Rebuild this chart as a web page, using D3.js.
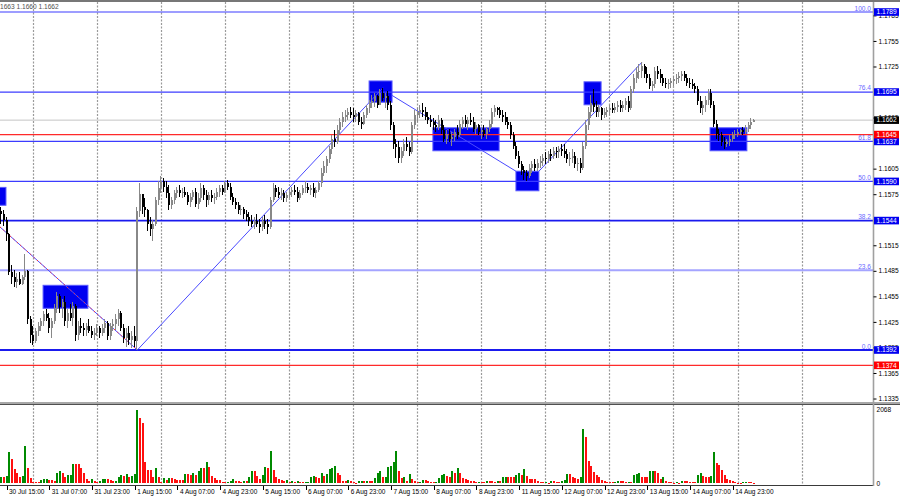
<!DOCTYPE html>
<html><head><meta charset="utf-8">
<script src="https://cdn.jsdelivr.net/npm/d3@7"></script>
<style>html,body{margin:0;padding:0;background:#fff;overflow:hidden}text{font-family:"Liberation Sans",Arial,sans-serif}</style>
</head><body>
<svg id="c" width="900" height="500"></svg>
<script>
// ---- DATA (prices stored as pips above 1.1000; index 0 = 30 Jul 15:00, H1 bars) ----
const PIP = 0.0001, BASE = 1.1;
const firstIndex = -2;
const firstOpen = 555;
const closes = [
552,545,528,484,478,472,475,470,478,485,
428,410,403,414,420,426,434,430,418,426,
440,456,442,448,426,436,430,444,410,420,
418,416,420,414,410,412,418,412,418,424,
408,420,422,428,436,418,406,412,404,408,
402,555,575,560,556,540,534,540,568,582,
590,584,576,562,568,576,580,576,578,574,
566,572,578,564,570,582,574,568,574,570,
572,578,582,578,588,584,572,566,562,556,
558,552,548,544,540,544,540,536,544,540,
536,568,582,578,574,576,570,574,578,580,
578,570,576,582,584,580,582,576,580,588,
600,608,616,628,640,636,650,660,666,668,
672,668,666,670,660,658,668,676,682,684,
690,680,694,688,690,680,656,634,630,618,
626,634,630,624,656,668,672,674,672,666,
662,660,656,654,662,650,640,646,640,642,
648,644,658,662,658,662,660,652,656,648,
650,646,652,658,672,676,674,668,666,660,
656,644,632,620,610,604,600,596,606,610,
606,612,614,618,616,622,620,626,624,628,
626,622,616,618,620,610,612,606,632,656,
672,682,678,672,676,668,672,674,676,674,
678,680,676,680,684,676,698,712,718,720,
726,716,712,702,704,720,716,712,706,704,
706,708,710,712,714,716,712,706,704,702,
698,684,676,680,686,694,680,658,646,644,
636,634,636,640,644,646,648,650,648,652,
656,660,662];
const highs = [
560,556,548,530,492,486,482,484,480,505,
486,432,420,418,425,430,438,440,436,430,
446,460,458,452,456,440,446,448,446,426,
430,424,424,428,420,418,422,420,422,428,
426,424,428,434,440,438,422,418,420,414,
420,560,588,575,570,558,548,545,572,590,
596,594,590,586,572,580,584,586,582,584,
578,576,580,582,576,588,586,580,578,580,
576,582,586,586,590,592,588,576,570,566,
562,560,556,554,550,548,552,546,548,550,
546,572,588,586,584,582,580,578,582,584,
586,584,580,586,590,588,586,588,584,590,
606,614,620,632,645,650,656,664,672,674,
676,678,676,674,672,666,672,680,686,692,
694,692,698,700,694,696,684,660,640,638,
630,640,642,636,660,674,676,680,682,678,
672,668,664,662,668,664,656,650,652,648,
652,656,662,666,668,666,670,666,660,658,
654,656,654,662,676,680,678,678,674,672,
666,660,648,636,626,614,608,604,610,614,
616,616,620,622,624,626,628,630,630,632,
634,634,628,624,628,624,618,618,636,662,
678,692,698,684,680,678,676,678,680,682,
682,684,686,684,688,690,702,716,724,728,
730,728,724,716,708,724,726,722,716,712,
710,712,714,716,718,720,720,716,712,710,
706,702,690,684,690,698,698,684,662,652,
648,642,640,644,648,650,652,652,654,656,
660,664,663];
const lows = [
540,538,520,480,470,466,465,468,468,474,
422,400,398,400,408,414,420,426,412,406,
422,436,436,430,420,418,426,420,402,404,
412,408,408,412,406,404,408,406,408,412,
404,404,414,416,420,414,400,396,398,394,
396,392,548,552,548,532,526,520,538,562,
576,578,570,556,558,564,570,572,570,572,
562,560,568,560,558,566,568,560,562,566,
564,568,572,574,576,580,568,562,558,552,
550,546,544,538,536,534,536,530,532,534,
528,534,566,572,570,568,566,566,570,572,
574,566,568,574,576,576,574,572,570,578,
584,596,600,612,622,630,634,646,654,660,
662,664,660,660,656,652,656,664,670,676,
678,676,680,684,676,674,650,628,618,612,
612,620,626,620,622,652,660,664,666,662,
658,654,650,648,650,646,636,634,636,632,
638,640,642,652,654,650,656,648,646,644,
640,642,640,648,654,666,668,664,660,656,
652,640,628,616,606,598,592,590,594,600,
602,602,606,608,610,612,614,616,618,618,
620,618,612,608,612,606,602,600,604,628,
650,664,672,666,666,662,664,666,668,670,
670,672,672,672,674,672,674,694,706,710,
712,712,706,698,696,700,710,706,702,700,
698,700,702,704,706,708,708,702,700,698,
694,680,670,668,672,680,676,654,640,638,
632,628,630,632,636,640,642,644,644,646,
648,652,660];
const volumes = [
178,159,197,881,665,384,272,159,197,1040,
431,131,37,37,37,84,103,112,84,84,
66,290,337,290,159,216,234,534,525,525,
422,290,122,66,103,66,37,56,103,122,
103,75,56,66,159,225,197,253,178,197,
253,2068,1818,1696,600,365,365,159,412,159,
37,131,84,150,150,103,84,84,75,253,
253,225,272,225,347,431,431,600,440,197,
150,75,75,19,19,28,47,103,66,56,
37,47,47,178,337,337,197,103,234,459,
412,909,365,178,122,84,66,84,28,47,
28,56,
28,19,28,37,178,197,159,131,290,197,
253,394,422,478,290,234,66,47,84,47,
19,9,56,66,47,56,56,56,150,272,
347,159,178,440,478,581,900,347,150,178,
66,253,112,56,28,37,84,84,47,37,
19,37,140,225,244,197,178,347,272,412,
290,131,112,84,66,47,28,37,19,19,
47,47,47,28,47,47,159,178,159,159,
159,225,272,225,384,197,122,122,103,66,
28,19,28,9,66,47,37,37,56,84,
253,253,159,150,122,178,1509,1302,628,478,
319,225,159,
75,56,37,28,19,28,66,66,47,28,
37,37,216,253,272,178,178,178,337,347,
347,272,122,178,47,37,28,9,19,10,
47,47,47,28,28,28,216,272,187,178,
178,197,881,572,497,365,216,122,84,47,
28,10,9,19,28,28,28,10];
const timeTickIdx = [0,16,32,48,64,80,96,112,128,144,160,176,192,208,224,240,256,272];
const timeTickLabels = ["30 Jul 15:00","31 Jul 07:00","31 Jul 23:00","1 Aug 15:00","4 Aug 07:00","4 Aug 23:00","5 Aug 15:00","6 Aug 07:00","6 Aug 23:00","7 Aug 15:00","8 Aug 07:00","8 Aug 23:00","11 Aug 15:00","12 Aug 07:00","12 Aug 23:00","13 Aug 15:00","14 Aug 07:00","14 Aug 23:00"];
const priceTicks = [1.1335,1.1365,1.1395,1.1425,1.1455,1.1485,1.1515,1.1545,1.1575,1.1605,1.1635,1.1665,1.1695,1.1725,1.1755,1.1785];
const volTicks = [0, 2068];
const fibHigh = 1.1789, fibLow = 1.1392;
const fibRatios = [1, 0.764, 0.618, 0.5, 0.382, 0.236, 0];
const fibNames = ["100.0","76.4","61.8","50.0","38.2","23.6","0.0"];
const blueLevels = [1.1789, 1.1695, 1.1637, 1.1590, 1.1544, 1.1392];
const redLevels = [1.1645, 1.1374];
const lastPrice = 1.1662;
const headerText = "1663 1.1660 1.1662";
// zones: bar index range and price range
const zones = [
 {i0:-3, i1:-0.2, p0:1.1562, p1:1.1583},
 {i0:13.7, i1:30.5, p0:1.1441, p1:1.1468},
 {i0:135.8, i1:144.4, p0:1.1683, p1:1.1708},
 {i0:159.7, i1:184.5, p0:1.1626, p1:1.1653},
 {i0:190.8, i1:199.4, p0:1.1579, p1:1.1602},
 {i0:216.3, i1:222.7, p0:1.1680, p1:1.1707},
 {i0:263.5, i1:277.3, p0:1.1626, p1:1.1653}
];
const trendLines = [
 {i0:-2.43, p0:1.15365, i1:49, p1:1.1392, dashed:true},
 {i0:49, p0:1.1392, i1:141, p1:1.1700},
 {i0:144.4, p0:1.1691, i1:190.8, p1:1.1602},
 {i0:199.4, p0:1.1602, i1:238, p1:1.1730}
];

// ---- LAYOUT ----
const svg = d3.select("#c");
const axisX = 873, mainTop = 2, mainBot = 402, volTop = 405, volBot = 485;
const x = d3.scaleLinear().domain([0, 272]).range([6.5, 6.5 + 2.67 * 272]);
const y = d3.scaleLinear().domain([fibLow, fibHigh]).range([350, 12]);
const yv = d3.scaleLinear().domain([0, 2068]).range([483, 409.5]);
const toP = v => BASE + v * PIP;

const defs = svg.append("defs");
defs.append("clipPath").attr("id","cm").append("rect").attr("x",0).attr("y",mainTop).attr("width",axisX).attr("height",mainBot-mainTop);
defs.append("clipPath").attr("id","cv").append("rect").attr("x",0).attr("y",volTop).attr("width",axisX).attr("height",volBot-volTop);

// grid (vertical dashed)
const gridIdx = d3.range(13).map(k => 9.8 + 24 * k);
svg.append("g").selectAll("line").data(gridIdx).join("line")
  .attr("x1", d => Math.round(x(d)) + 0.5).attr("x2", d => Math.round(x(d)) + 0.5)
  .attr("y1", mainTop).attr("y2", volBot)
  .attr("stroke", "#9a9a9a").attr("stroke-width", 1.2).attr("stroke-dasharray", "2,1.5");

const gm = svg.append("g").attr("clip-path","url(#cm)");

// zones
gm.append("g").selectAll("rect").data(zones).join("rect")
  .attr("x", d => x(d.i0)).attr("width", d => x(d.i1) - x(d.i0))
  .attr("y", d => y(d.p1)).attr("height", d => y(d.p0) - y(d.p1))
  .attr("fill", "#0000f0").attr("stroke", "#5a5aff").attr("stroke-width", 1);

// horizontal lines
gm.append("line").attr("x1",0).attr("x2",axisX).attr("y1",y(lastPrice)).attr("y2",y(lastPrice))
  .attr("stroke","#c4c4c4").attr("stroke-width",1);
const fibLevels = fibRatios.map((r,k) => ({p: fibLow + r * (fibHigh - fibLow), name: fibNames[k], r}));
gm.append("g").selectAll("line").data(fibLevels.filter(d => d.r === 0.236)).join("line")
  .attr("x1",0).attr("x2",axisX).attr("y1",d=>y(d.p)).attr("y2",d=>y(d.p))
  .attr("stroke","#a4a4ff").attr("stroke-width",2);
gm.append("g").selectAll("line").data(blueLevels).join("line")
  .attr("x1",0).attr("x2",axisX).attr("y1",d=>y(d)).attr("y2",d=>y(d))
  .attr("stroke", d => (d===1.1544||d===1.1392) ? "#1a1aee" : "#3c3cff")
  .attr("stroke-width", d => (d===1.1544||d===1.1392) ? 1.8 : 1.2);
gm.append("g").selectAll("line").data(redLevels).join("line")
  .attr("x1",0).attr("x2",axisX).attr("y1",d=>y(d)).attr("y2",d=>y(d))
  .attr("stroke","#ff2a2a").attr("stroke-width",1.2);

// fib labels
svg.append("g").selectAll("text").data(fibLevels).join("text")
  .attr("x", axisX - 2).attr("y", d => y(d.p) - 1.5).attr("text-anchor","end")
  .attr("font-size", 6.6).attr("fill", "#6a6aff").text(d => d.name);

// trend lines
gm.append("g").selectAll("line").data(trendLines).join("line")
  .attr("x1",d=>x(d.i0)).attr("y1",d=>y(d.p0)).attr("x2",d=>x(d.i1)).attr("y2",d=>y(d.p1))
  .attr("stroke","#4a4aff").attr("stroke-width",1);
gm.append("g").selectAll("line").data(trendLines.filter(d=>d.dashed)).join("line")
  .attr("x1",d=>x(d.i0)).attr("y1",d=>y(d.p0)).attr("x2",d=>x(d.i1)).attr("y2",d=>y(d.p1))
  .attr("stroke","#ff3030").attr("stroke-width",1).attr("stroke-dasharray","1.5,3");

// bars
let prev = firstOpen;
const bars = closes.map((c,k) => {
  const o = prev; prev = c;
  return {i: firstIndex + k, o, c, h: Math.max(highs[k], o, c), l: Math.min(lows[k], o, c), v: volumes[k]};
});
const cg = gm.append("g").attr("shape-rendering","crispEdges");
bars.forEach(b => {
  const cx = Math.round(x(b.i));
  const col = b.c >= b.o ? "#888888" : "#000";
  cg.append("rect").attr("x", cx - 1).attr("width", 1).attr("y", y(toP(b.h)))
    .attr("height", Math.max(1, y(toP(b.l)) - y(toP(b.h)))).attr("fill", col);
  const top = y(toP(Math.max(b.o, b.c))), bot = y(toP(Math.min(b.o, b.c)));
  cg.append("rect").attr("x", cx - 1.5).attr("width", 2).attr("y", top)
    .attr("height", Math.max(1, bot - top)).attr("fill", col);
});

// volumes
const gv = svg.append("g").attr("clip-path","url(#cv)").attr("shape-rendering","crispEdges");
gv.selectAll("rect").data(bars).join("rect")
  .attr("x", d => Math.round(x(d.i)) - 1.5).attr("width", 2)
  .attr("y", d => yv(d.v)).attr("height", d => Math.max(1, yv(0) - yv(d.v)))
  .attr("fill", (d,k) => (k === 0 || d.v > bars[k-1].v) ? "#008a00" : "#ff1010");

// frame
svg.append("line").attr("x1",0).attr("x2",900).attr("y1",1).attr("y2",1).attr("stroke","#4a4a4a").attr("stroke-width",1.5);
svg.append("rect").attr("x",0).attr("y",mainBot).attr("width",900).attr("height",3).attr("fill","#a8a8a8");
svg.append("line").attr("x1",0).attr("x2",900).attr("y1",404.5).attr("y2",404.5).attr("stroke","#505050").attr("stroke-width",1);
svg.append("line").attr("x1",0).attr("x2",axisX).attr("y1",volBot+0.5).attr("y2",volBot+0.5).attr("stroke","#3a3a3a").attr("stroke-width",1);
svg.append("line").attr("x1",axisX+0.5).attr("x2",axisX+0.5).attr("y1",mainTop).attr("y2",volBot+1).attr("stroke","#a0a0a0").attr("stroke-width",1.6);

// price label boxes (levels with a tag); ticks fully hidden behind a tag are not drawn
const tags = blueLevels.map(p => ({p, bg:"#0000f0"}))
  .concat(redLevels.map(p => ({p, bg:"#ff0000"})))
  .concat([{p:lastPrice, bg:"#000"}]);
const visibleTicks = priceTicks.filter(t => !tags.some(g => Math.abs(y(g.p) - y(t)) < 1.8));

// price axis
const pa = svg.append("g").attr("transform",`translate(${axisX+0.5},0)`)
  .call(d3.axisRight(y).tickValues(visibleTicks).tickSize(3).tickPadding(2).tickFormat(d3.format(".4f")));
pa.select(".domain").remove();
pa.selectAll("line").attr("stroke","#000");
pa.selectAll("text").attr("font-size",6.6).attr("fill","#000").attr("font-family","Liberation Sans, Arial, sans-serif");

// volume axis
const va = svg.append("g").attr("transform",`translate(${axisX+0.5},0)`)
  .call(d3.axisRight(yv).tickValues(volTicks).tickSize(0).tickPadding(3).tickFormat(d3.format("d")));
va.select(".domain").remove();
va.selectAll("text").attr("font-size",6.6).attr("fill","#000").attr("font-family","Liberation Sans, Arial, sans-serif");

const tg = svg.append("g");
tags.forEach(t => {
  tg.append("rect").attr("x", axisX + 1).attr("y", y(t.p) - 3.8).attr("width", 25).attr("height", 7.6).attr("fill", t.bg);
  tg.append("text").attr("x", axisX + 3.5).attr("y", y(t.p)).attr("dy","0.35em")
    .attr("font-size",6.6).attr("fill","#fff").text(d3.format(".4f")(t.p));
});

// time axis
const ta = svg.append("g").attr("transform",`translate(0,${volBot+0.5})`)
  .call(d3.axisBottom(x).tickValues(timeTickIdx).tickSize(4).tickPadding(1)
    .tickFormat((d,k) => timeTickLabels[k]));
ta.select(".domain").remove();
ta.selectAll("line").attr("stroke","#000").attr("shape-rendering","crispEdges");
ta.selectAll("text").attr("text-anchor","start").attr("dx","2").attr("dy","0.55em")
  .attr("font-size",6.5).attr("fill","#000").attr("font-family","Liberation Sans, Arial, sans-serif");

// header
svg.append("text").attr("x",0).attr("y",9).attr("font-size",6.6).attr("fill","#505050").text(headerText);
</script>
</body></html>
